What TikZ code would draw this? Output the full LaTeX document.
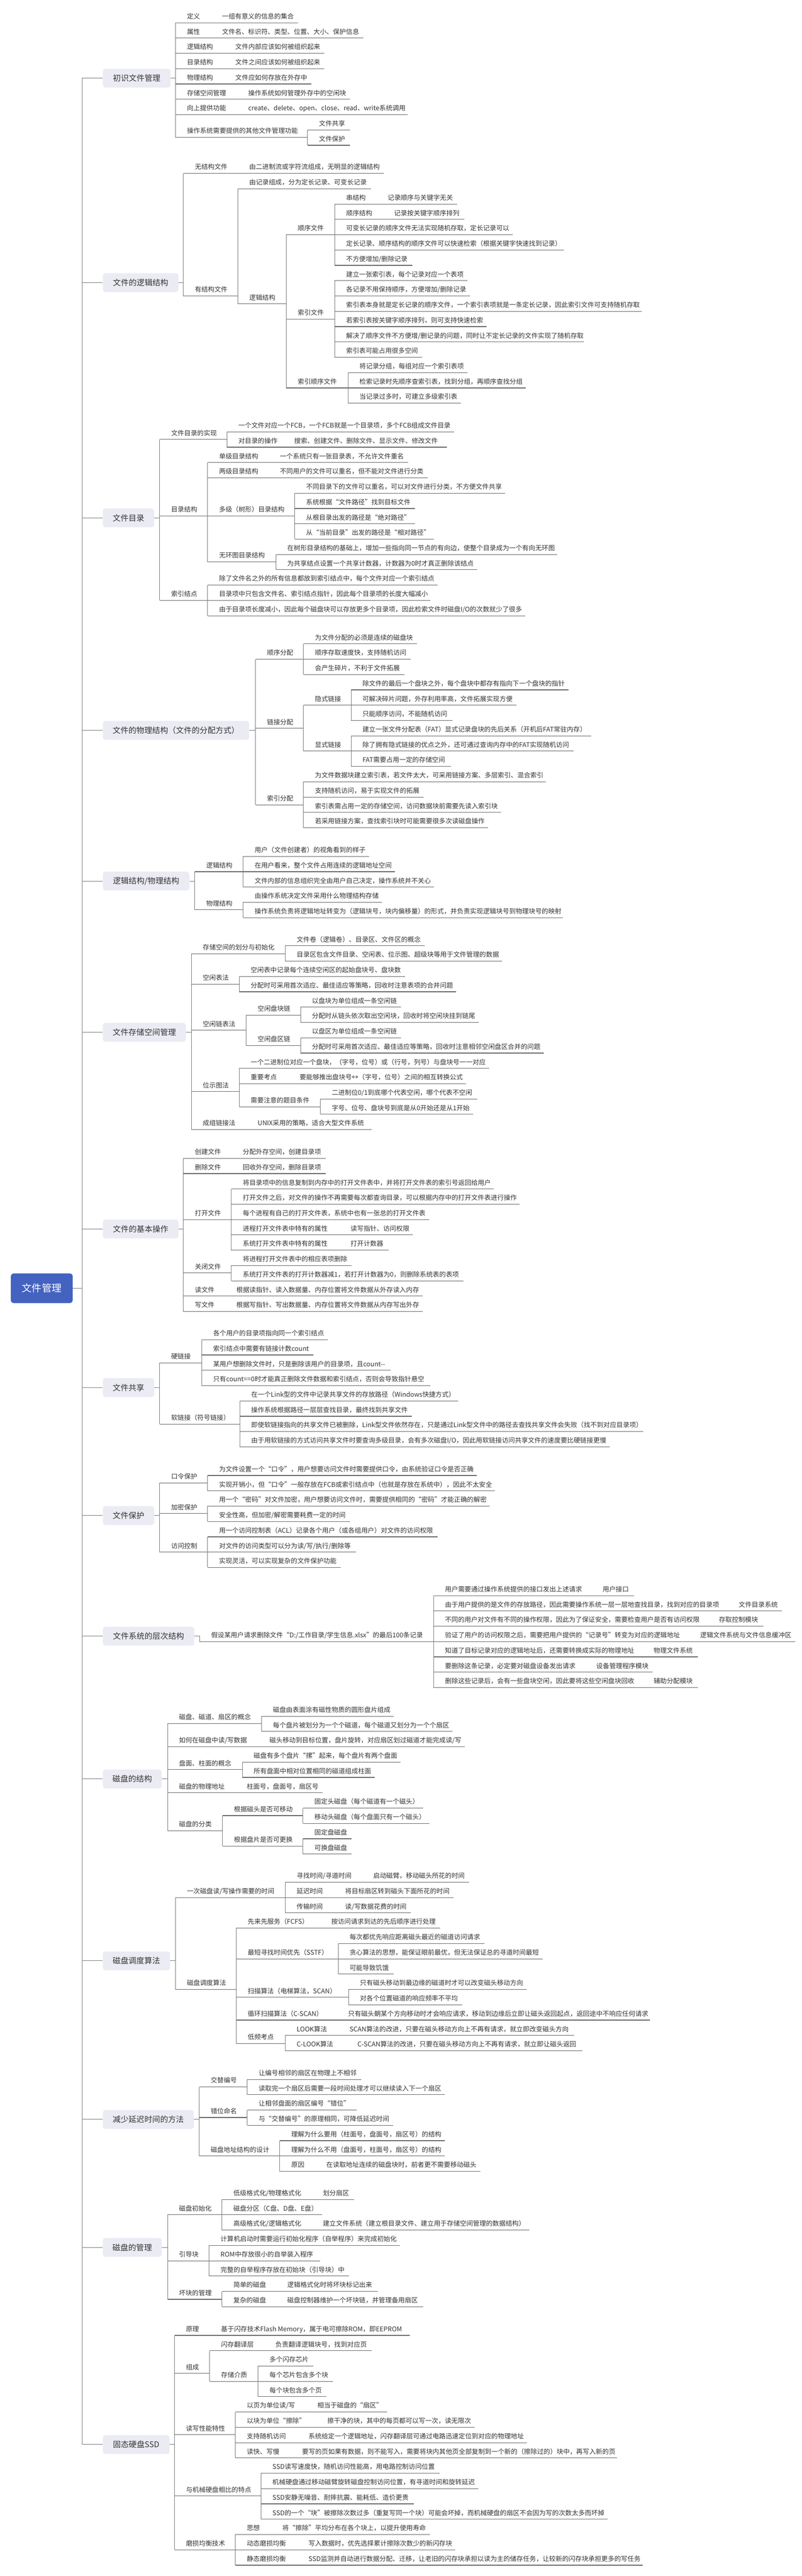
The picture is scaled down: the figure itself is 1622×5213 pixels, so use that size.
\documentclass[tikz,border=0pt]{standalone}
\usepackage{fontspec}
\setmainfont{Noto Sans CJK SC}
\definecolor{rootblue}{HTML}{4462C0}
\definecolor{lonefill}{HTML}{EBEBF4}
\definecolor{txtcol}{HTML}{333333}
\definecolor{linecol}{HTML}{666666}
\definecolor{brcol}{HTML}{7A7A7A}
\tikzset{
  txt/.style={anchor=base west, inner sep=0pt, font=\fontsize{13.2}{15}\selectfont, text=txtcol},
  ul/.style={draw=linecol, line width=1.2pt},
  br/.style={draw=brcol, line width=1pt},
  lone/.style={fill=lonefill, rounded corners=5pt, inner sep=0pt, font=\fontsize{16}{19}\selectfont, text=txtcol},
  rootn/.style={fill=rootblue, rounded corners=6pt, inner sep=0pt, font=\fontsize{20}{24}\selectfont, text=white},
}
% child of a first-level box: box, name, x1, x2, y, text
\newcommand\mmF[6]{%
  \coordinate (#2l) at (#3,#5);
  \coordinate (#2r) at (#4,#5);
  \draw[ul] (#2l) -- (#2r);
  \node[txt] (#2) at ([xshift=23pt,yshift=8pt]#2l) {#6};
  \draw[br] (#1.east) -| (#2l);
}
% child of an underlined node: parent, name, x2, y, text
\newcommand\mmK[5]{%
  \coordinate (#2l) at (#1r |- 0,#4);
  \coordinate (#2r) at (#3,#4);
  \draw[ul] (#2l) -- (#2r);
  \node[txt] (#2) at ([xshift=23pt,yshift=8pt]#2l) {#5};
  \draw[br] (#1r) -- (#2l);
}
% first-level box: name, cx, cy, w, h, text
\newcommand\mmB[6]{%
  \node[lone, minimum width=#4pt, minimum height=#5pt] (#1) at (#2,#3) {#6};
  \draw[br] (root.east) -- (trunk) |- (#1.west);
}
\begin{document}
\begin{tikzpicture}[x=1pt,y=-1pt]
\fill[white] (0,0) rectangle (1622,5213);
\useasboundingbox (0,0) rectangle (1622,5213);

\node[rootn, minimum width=125pt, minimum height=60pt] (root) at (84.5,2607) {文件管理};
\coordinate (trunk) at (166,2607);

% ---------- A
\mmB{A}{276.5}{158}{137}{38}{初识文件管理}
\mmF{A}{a1}{355}{426}{46}{定义}
\mmK{a1}{a1a}{603}{46}{一组有意义的信息的集合}
\mmF{A}{a2}{355}{426}{77}{属性}
\mmK{a2}{a2a}{735}{77}{文件名、标识符、类型、位置、大小、保护信息}
\mmF{A}{a3}{355}{453}{108}{逻辑结构}
\mmK{a3}{a3a}{656}{108}{文件内部应该如何被组织起来}
\mmF{A}{a4}{355}{453}{139}{目录结构}
\mmK{a4}{a4a}{656}{139}{文件之间应该如何被组织起来}
\mmF{A}{a5}{355}{453}{170}{物理结构}
\mmK{a5}{a5a}{630}{170}{文件应如何存放在外存中}
\mmF{A}{a6}{355}{479}{201}{存储空间管理}
\mmK{a6}{a6a}{708}{201}{操作系统如何管理外存中的空闲块}
\mmF{A}{a7}{355}{479}{232}{向上提供功能}
\mmK{a7}{a7a}{825}{232}{create、delete、open、close、read、write系统调用}
\mmF{A}{a8}{355}{622}{278}{操作系统需要提供的其他文件管理功能}
\mmK{a8}{a8a}{708}{263}{文件共享}
\mmK{a8}{a8b}{708}{294}{文件保护}

% ---------- B
\mmB{B}{284.5}{572}{153}{38}{文件的逻辑结构}
\mmF{B}{b1}{371}{481}{351}{无结构文件}
\mmK{b1}{b1a}{777}{351}{由二进制流或字符流组成，无明显的逻辑结构}
\mmF{B}{b2}{371}{481}{599}{有结构文件}
\mmK{b2}{b2a}{751}{382}{由记录组成，分为定长记录、可变长记录}
\mmK{b2}{b2b}{579}{615}{逻辑结构}
\mmK{b2b}{b3}{677}{475}{顺序文件}
\mmK{b3}{b3a}{761}{413}{串结构}
\mmK{b3a}{b3a1}{925}{413}{记录顺序与关键字无关}
\mmK{b3}{b3b}{774}{444}{顺序结构}
\mmK{b3b}{b3b1}{939}{444}{记录按关键字顺序排列}
\mmK{b3}{b3c}{1037}{475}{可变长记录的顺序文件无法实现随机存取，定长记录可以}
\mmK{b3}{b3d}{1141}{506}{定长记录、顺序结构的顺序文件可以快速检索（根据关键字快速找到记录）}
\mmK{b3}{b3e}{834}{537}{不方便增加/删除记录}
\mmK{b2b}{b4}{677}{646}{索引文件}
\mmK{b4}{b4a}{946}{568}{建立一张索引表，每个记录对应一个表项}
\mmK{b4}{b4b}{951}{599}{各记录不用保持顺序，方便增加/删除记录}
\mmK{b4}{b4c}{1298}{630}{索引表本身就是定长记录的顺序文件，一个索引表项就是一条定长记录，因此索引文件可支持随机存取}
\mmK{b4}{b4d}{984}{661}{若索引表按关键字顺序排列，则可支持快速检索}
\mmK{b4}{b4e}{1181}{692}{解决了顺序文件不方便增/删记录的问题，同时让不定长记录的文件实现了随机存取}
\mmK{b4}{b4f}{854}{723}{索引表可能占用很多空间}
\mmK{b2b}{b5}{704}{785}{索引顺序文件}
\mmK{b5}{b5a}{946}{754}{将记录分组，每组对应一个索引表项}
\mmK{b5}{b5b}{1063}{785}{检索记录时先顺序查索引表，找到分组，再顺序查找分组}
\mmK{b5}{b5c}{932}{816}{当记录过多时，可建立多级索引表}

% ---------- C
\mmB{C}{260}{1048}{104}{38}{文件目录}
\mmF{C}{c1}{323}{459}{889}{文件目录的实现}
\mmK{c1}{c1a}{919}{874}{一个文件对应一个FCB，一个FCB就是一个目录项，多个FCB组成文件目录}
\mmK{c1}{c1b}{572}{905}{对目录的操作}
\mmK{c1b}{c1b1}{904}{905}{搜索、创建文件、删除文件、显示文件、修改文件}
\mmF{C}{c2}{323}{420}{1044}{目录结构}
\mmK{c2}{c2a}{543}{936}{单级目录结构}
\mmK{c2a}{c2a1}{826}{936}{一个系统只有一张目录表，不允许文件重名}
\mmK{c2}{c2b}{543}{967}{两级目录结构}
\mmK{c2b}{c2b1}{865}{967}{不同用户的文件可以重名，但不能对文件进行分类}
\mmK{c2}{c2c}{596}{1044}{多级（树形）目录结构}
\mmK{c2c}{c2c1}{1022}{998}{不同目录下的文件可以重名，可以对文件进行分类，不方便文件共享}
\mmK{c2c}{c2c2}{839}{1029}{系统根据“文件路径”找到目标文件}
\mmK{c2c}{c2c3}{839}{1060}{从根目录出发的路径是“绝对路径”}
\mmK{c2c}{c2c4}{878}{1091}{从“当前目录”出发的路径是“相对路径”}
\mmK{c2}{c2d}{558}{1137}{无环图目录结构}
\mmK{c2d}{c2d1}{1127}{1122}{在树形目录结构的基础上，增加一些指向同一节点的有向边，使整个目录成为一个有向无环图}
\mmK{c2d}{c2d2}{965}{1153}{为共享结点设置一个共享计数器，计数器为0时才真正删除该结点}
\mmF{C}{c3}{323}{420}{1215}{索引结点}
\mmK{c3}{c3a}{885}{1184}{除了文件名之外的所有信息都放到索引结点中，每个文件对应一个索引结点}
\mmK{c3}{c3b}{871}{1215}{目录项中只包含文件名、索引结点指针，因此每个目录项的长度大幅减小}
\mmK{c3}{c3c}{1062}{1246}{由于目录项长度减小，因此每个磁盘块可以存放更多个目录项，因此检索文件时磁盘I/O的次数就少了很多}

% ---------- D
\mmB{D}{356}{1478}{296}{38}{文件的物理结构（文件的分配方式）}
\mmF{D}{d1}{517}{614}{1334}{顺序分配}
\mmK{d1}{d1a}{843}{1303}{为文件分配的必须是连续的磁盘块}
\mmK{d1}{d1b}{831}{1334}{顺序存取速度快，支持随机访问}
\mmK{d1}{d1c}{818}{1365}{会产生碎片，不利于文件拓展}
\mmF{D}{d2}{517}{614}{1474}{链接分配}
\mmK{d2}{d2a}{710}{1427}{隐式链接}
\mmK{d2a}{d2a1}{1150}{1396}{除文件的最后一个盘块之外，每个盘块中都存有指向下一个盘块的指针}
\mmK{d2a}{d2a2}{1045}{1427}{可解决碎片问题，外存利用率高，文件拓展实现方便}
\mmK{d2a}{d2a3}{915}{1458}{只能顺序访问，不能随机访问}
\mmK{d2}{d2b}{710}{1520}{显式链接}
\mmK{d2b}{d2b1}{1196}{1489}{建立一张文件分配表（FAT）显式记录盘块的先后关系（开机后FAT常驻内存）}
\mmK{d2b}{d2b2}{1160}{1520}{除了拥有隐式链接的优点之外，还可通过查询内存中的FAT实现随机访问}
\mmK{d2b}{d2b3}{912}{1551}{FAT需要占用一定的存储空间}
\mmF{D}{d3}{517}{614}{1629}{索引分配}
\mmK{d3}{d3a}{1104}{1582}{为文件数据块建立索引表，若文件太大，可采用链接方案、多层索引、混合索引}
\mmK{d3}{d3b}{857}{1613}{支持随机访问，易于实现文件的拓展}
\mmK{d3}{d3c}{1013}{1644}{索引表需占用一定的存储空间，访问数据块前需要先读入索引块}
\mmK{d3}{d3d}{987}{1675}{若采用链接方案，查找索引块时可能需要很多次读磁盘操作}

% ---------- E
\mmB{E}{295.5}{1783}{175}{38}{逻辑结构/物理结构}
\mmF{E}{e1}{394}{492}{1764}{逻辑结构}
\mmK{e1}{e1a}{747}{1733}{用户（文件创建者）的视角看到的样子}
\mmK{e1}{e1b}{799}{1764}{在用户看来，整个文件占用连续的逻辑地址空间}
\mmK{e1}{e1c}{878}{1795}{文件内部的信息组织完全由用户自己决定，操作系统并不关心}
\mmF{E}{e2}{394}{492}{1841}{物理结构}
\mmK{e2}{e2a}{773}{1826}{由操作系统决定文件采用什么物理结构存储}
\mmK{e2}{e2b}{1139}{1857}{操作系统负责将逻辑地址转变为（逻辑块号，块内偏移量）的形式，并负责实现逻辑块号到物理块号的映射}

% ---------- F
\mmB{F}{292}{2089}{168}{38}{文件存储空间管理}
\mmF{F}{f1}{387}{577}{1930}{存储空间的划分与初始化}
\mmK{f1}{f1a}{859}{1914}{文件卷（逻辑卷）、目录区、文件区的概念}
\mmK{f1}{f1b}{1015}{1945}{目录区包含文件目录、空闲表、位示图、超级块等用于文件管理的数据}
\mmF{F}{f2}{387}{484}{1992}{空闲表法}
\mmK{f2}{f2a}{819}{1976}{空闲表中记录每个连续空闲区的起始盘块号、盘块数}
\mmK{f2}{f2b}{923}{2007}{分配时可采用首次适应、最佳适应等策略，回收时注意表项的合并问题}
\mmF{F}{f3}{387}{498}{2085}{空闲链表法}
\mmK{f3}{f3a}{608}{2054}{空闲盘块链}
\mmK{f3a}{f3a1}{811}{2038}{以盘块为单位组成一条空闲链}
\mmK{f3a}{f3a2}{969}{2069}{分配时从链头依次取出空闲块，回收时将空闲块挂到链尾}
\mmK{f3}{f3b}{608}{2116}{空闲盘区链}
\mmK{f3b}{f3b1}{811}{2100}{以盘区为单位组成一条空闲链}
\mmK{f3b}{f3b2}{1100}{2131}{分配时可采用首次适应、最佳适应等策略，回收时注意相邻空闲盘区合并的问题}
\mmF{F}{f4}{387}{484}{2209}{位示图法}
\mmK{f4}{f4a}{989}{2162}{一个二进制位对应一个盘块，（字号，位号）或（行号，列号）与盘块号一一对应}
\mmK{f4}{f4b}{583}{2193}{重要考点}
\mmK{f4b}{f4b1}{943}{2193}{要能够推出盘块号↔（字号，位号）之间的相互转换公式}
\mmK{f4}{f4c}{648}{2240}{需要注意的题目条件}
\mmK{f4c}{f4c1}{965}{2224}{二进制位0/1到底哪个代表空闲，哪个代表不空闲}
\mmK{f4c}{f4c2}{957}{2255}{字号、位号、盘块号到底是从0开始还是从1开始}
\mmF{F}{f5}{387}{498}{2286}{成组链接法}
\mmK{f5}{f5a}{752}{2286}{UNIX采用的策略，适合大型文件系统}

% ---------- G
\mmB{G}{284.5}{2487}{153}{38}{文件的基本操作}
\mmF{G}{g1}{371}{468}{2344}{创建文件}
\mmK{g1}{g1a}{659}{2344}{分配外存空间，创建目录项}
\mmF{G}{g2}{371}{468}{2375}{删除文件}
\mmK{g2}{g2a}{659}{2375}{回收外存空间，删除目录项}
\mmF{G}{g3}{371}{468}{2468}{打开文件}
\mmK{g3}{g3a}{999}{2406}{将目录项中的信息复制到内存中的打开文件表中，并将打开文件表的索引号返回给用户}
\mmK{g3}{g3b}{1051}{2437}{打开文件之后，对文件的操作不再需要每次都查询目录，可以根据内存中的打开文件表进行操作}
\mmK{g3}{g3c}{868}{2468}{每个进程有自己的打开文件表，系统中也有一张总的打开文件表}
\mmK{g3}{g3d}{686}{2499}{进程打开文件表中特有的属性}
\mmK{g3d}{g3d1}{835}{2499}{读写指针、访问权限}
\mmK{g3}{g3e}{686}{2530}{系统打开文件表中特有的属性}
\mmK{g3e}{g3e1}{786}{2530}{打开计数器}
\mmF{G}{g4}{371}{468}{2576}{关闭文件}
\mmK{g4}{g4a}{711}{2561}{将进程打开文件表中的相应表项删除}
\mmK{g4}{g4b}{937}{2592}{系统打开文件表的打开计数器减1，若打开计数器为0，则删除系统表的表项}
\mmF{G}{g5}{371}{455}{2623}{读文件}
\mmK{g5}{g5a}{855}{2623}{根据读指针、读入数据量、内存位置将文件数据从外存读入内存}
\mmF{G}{g6}{371}{455}{2654}{写文件}
\mmK{g6}{g6a}{855}{2654}{根据写指针、写出数据量、内存位置将文件数据从内存写出外存}

% ---------- H
\mmB{H}{260}{2808}{104}{38}{文件共享}
\mmF{H}{h1}{323}{408}{2758}{硬链接}
\mmK{h1}{h1a}{663}{2711}{各个用户的目录项指向同一个索引结点}
\mmK{h1}{h1b}{634}{2742}{索引结点中需要有链接计数count}
\mmK{h1}{h1c}{790}{2773}{某用户想删除文件时，只是删除该用户的目录项，且count-{}-}
\mmK{h1}{h1d}{871}{2804}{只有count==0时才能真正删除文件数据和索引结点，否则会导致指针悬空}
\mmF{H}{h2}{323}{485}{2882}{软链接（符号链接）}
\mmK{h2}{h2a}{927}{2835}{在一个Link型的文件中记录共享文件的存放路径（Windows快捷方式）}
\mmK{h2}{h2b}{833}{2866}{操作系统根据路径一层层查找目录，最终找到共享文件}
\mmK{h2}{h2c}{1301}{2897}{即使软链接指向的共享文件已被删除，Link型文件依然存在，只是通过Link型文件中的路径去查找共享文件会失败（找不到对应目录项）}
\mmK{h2}{h2d}{1233}{2928}{由于用软链接的方式访问共享文件时要查询多级目录，会有多次磁盘I/O，因此用软链接访问共享文件的速度要比硬链接更慢}

% ---------- I
\mmB{I}{260}{3067}{104}{38}{文件保护}
\mmF{I}{i1}{323}{420}{3001}{口令保护}
\mmK{i1}{i1a}{964}{2986}{为文件设置一个“口令”，用户想要访问文件时需要提供口令，由系统验证口令是否正确}
\mmK{i1}{i1b}{1001}{3017}{实现开销小，但“口令”一般存放在FCB或索引结点中（也就是存放在系统中），因此不太安全}
\mmF{I}{i2}{323}{420}{3063}{加密保护}
\mmK{i2}{i2a}{990}{3048}{用一个“密码”对文件加密，用户想要访问文件时，需要提供相同的“密码”才能正确的解密}
\mmK{i2}{i2b}{708}{3079}{安全性高，但加密/解密需要耗费一定的时间}
\mmF{I}{i3}{323}{420}{3141}{访问控制}
\mmK{i3}{i3a}{885}{3110}{用一个访问控制表（ACL）记录各个用户（或各组用户）对文件的访问权限}
\mmK{i3}{i3b}{720}{3141}{对文件的访问类型可以分为读/写/执行/删除等}
\mmK{i3}{i3c}{689}{3172}{实现灵活，可以实现复杂的文件保护功能}

% ---------- J
\mmB{J}{300.5}{3311}{185}{38}{文件系统的层次结构}
\mmF{J}{j0}{404}{877}{3322}{假设某用户请求删除文件“D:/工作目录/学生信息.xlsx”的最后100条记录}
\mmK{j0}{j1}{1196}{3229}{用户需要通过操作系统提供的接口发出上述请求}
\mmK{j1}{j1a}{1282}{3229}{用户接口}
\mmK{j0}{j2}{1471}{3260}{由于用户提供的是文件的存放路径，因此需要操作系统一层一层地查找目录，找到对应的目录项}
\mmK{j2}{j2a}{1582}{3260}{文件目录系统}
\mmK{j0}{j3}{1431}{3291}{不同的用户对文件有不同的操作权限，因此为了保证安全，需要检查用户是否有访问权限}
\mmK{j3}{j3a}{1544}{3291}{存取控制模块}
\mmK{j0}{j4}{1393}{3322}{验证了用户的访问权限之后，需要把用户提供的“记录号”转变为对应的逻辑地址}
\mmK{j4}{j4a}{1609}{3322}{逻辑文件系统与文件信息缓冲区}
\mmK{j0}{j5}{1299}{3353}{知道了目标记录对应的逻辑地址后，还需要转换成实际的物理地址}
\mmK{j5}{j5a}{1412}{3353}{物理文件系统}
\mmK{j0}{j6}{1183}{3384}{要删除这条记录，必定要对磁盘设备发出请求}
\mmK{j6}{j6a}{1320}{3384}{设备管理程序模块}
\mmK{j0}{j7}{1299}{3415}{删除这些记录后，会有一些盘块空闲，因此要将这些空闲盘块回收}
\mmK{j7}{j7a}{1412}{3415}{辅助分配模块}

% ---------- K
\mmB{K}{267.5}{3600}{119}{38}{磁盘的结构}
\mmF{K}{k1}{339}{529}{3488}{磁盘、磁道、扇区的概念}
\mmK{k1}{k1a}{797}{3473}{磁盘由表面涂有磁性物质的圆形盘片组成}
\mmK{k1}{k1b}{915}{3504}{每个盘片被划分为一个个磁道，每个磁道又划分为一个个扇区}
\mmF{K}{k2}{339}{522}{3535}{如何在磁盘中读/写数据}
\mmK{k2}{k2a}{940}{3535}{磁头移动到目标位置，盘片旋转，对应扇区划过磁道才能完成读/写}
\mmF{K}{k3}{339}{490}{3581}{盘面、柱面的概念}
\mmK{k3}{k3a}{810}{3566}{磁盘有多个盘片“摞”起来，每个盘片有两个盘面}
\mmK{k3}{k3b}{758}{3597}{所有盘面中相对位置相同的磁道组成柱面}
\mmF{K}{k4}{339}{476}{3628}{磁盘的物理地址}
\mmK{k4}{k4a}{653}{3628}{柱面号，盘面号，扇区号}
\mmF{K}{k5}{339}{450}{3705}{磁盘的分类}
\mmK{k5}{k5a}{613}{3674}{根据磁头是否可移动}
\mmK{k5a}{k5a1}{856}{3659}{固定头磁盘（每个磁道有一个磁头）}
\mmK{k5a}{k5a2}{868}{3690}{移动头磁盘（每个盘面只有一个磁头）}
\mmK{k5}{k5b}{613}{3736}{根据盘片是否可更换}
\mmK{k5b}{k5b1}{711}{3721}{固定盘磁盘}
\mmK{k5b}{k5b2}{711}{3752}{可换盘磁盘}

% ---------- L
\mmB{L}{276}{3968}{136}{38}{磁盘调度算法}
\mmF{L}{l1}{355}{577}{3840}{一次磁盘读/写操作需要的时间}
\mmK{l1}{l1a}{732}{3809}{寻找时间/寻道时间}
\mmK{l1a}{l1a1}{949}{3809}{启动磁臂，移动磁头所花的时间}
\mmK{l1}{l1b}{675}{3840}{延迟时间}
\mmK{l1b}{l1b1}{917}{3840}{将目标扇区转到磁头下面所花的时间}
\mmK{l1}{l1c}{675}{3871}{传输时间}
\mmK{l1c}{l1c1}{831}{3871}{读/写数据花费的时间}
\mmF{L}{l2}{355}{478}{4026}{磁盘调度算法}
\mmK{l2}{l2a}{647}{3902}{先来先服务（FCFS）}
\mmK{l2a}{l2a1}{890}{3902}{按访问请求到达的先后顺序进行处理}
\mmK{l2}{l2b}{684}{3964}{最短寻找时间优先（SSTF）}
\mmK{l2b}{l2b1}{980}{3933}{每次都优先响应距离磁头最近的磁道访问请求}
\mmK{l2b}{l2b2}{1098}{3964}{贪心算法的思想，能保证眼前最优，但无法保证总的寻道时间最短}
\mmK{l2b}{l2b3}{797}{3995}{可能导致饥饿}
\mmK{l2}{l2c}{705}{4042}{扫描算法（电梯算法，SCAN）}
\mmK{l2c}{l2c1}{1066}{4026}{只有磁头移动到最边缘的磁道时才可以改变磁头移动方向}
\mmK{l2c}{l2c2}{935}{4057}{对各个位置磁道的响应频率不平均}
\mmK{l2}{l2d}{681}{4088}{循环扫描算法（C-SCAN）}
\mmK{l2d}{l2d1}{1315}{4088}{只有磁头朝某个方向移动时才会响应请求，移动到边缘后立即让磁头返回起点，返回途中不响应任何请求}
\mmK{l2}{l2e}{577}{4135}{低频考点}
\mmK{l2e}{l2e1}{684}{4119}{LOOK算法}
\mmK{l2e1}{l2e1a}{1161}{4119}{SCAN算法的改进，只要在磁头移动方向上不再有请求，就立即改变磁头方向}
\mmK{l2e}{l2e2}{700}{4150}{C-LOOK算法}
\mmK{l2e2}{l2e2a}{1178}{4150}{C-SCAN算法的改进，只要在磁头移动方向上不再有请求，就立即让磁头返回}

% ---------- M
\mmB{M}{300}{4289}{184}{38}{减少延迟时间的方法}
\mmF{M}{m1}{403}{500}{4223}{交替编号}
\mmK{m1}{m1a}{731}{4208}{让编号相邻的扇区在物理上不相邻}
\mmK{m1}{m1b}{900}{4239}{读取完一个扇区后需要一段时间处理才可以继续读入下一个扇区}
\mmF{M}{m2}{403}{500}{4285}{错位命名}
\mmK{m2}{m2a}{721}{4270}{让相邻盘面的扇区编号“错位”}
\mmK{m2}{m2b}{796}{4301}{与“交替编号”的原理相同，可降低延迟时间}
\mmF{M}{m3}{403}{566}{4363}{磁盘地址结构的设计}
\mmK{m3}{m3a}{900}{4332}{理解为什么要用（柱面号，盘面号，扇区号）的结构}
\mmK{m3}{m3b}{900}{4363}{理解为什么不用（盘面号，柱面号，扇区号）的结构}
\mmK{m3}{m3c}{637}{4394}{原因}
\mmK{m3c}{m3c1}{972}{4394}{在读取地址连续的磁盘块时，前者更不需要移动磁头}

% ---------- N
\mmB{N}{267.5}{4548}{119}{38}{磁盘的管理}
\mmF{N}{n1}{339}{449}{4482}{磁盘初始化}
\mmK{n1}{n1a}{630}{4451}{低级格式化/物理格式化}
\mmK{n1a}{n1a1}{716}{4451}{划分扇区}
\mmK{n1}{n1b}{652}{4482}{磁盘分区（C盘、D盘、E盘）}
\mmK{n1}{n1c}{630}{4513}{高级格式化/逻辑格式化}
\mmK{n1c}{n1c1}{1071}{4513}{建立文件系统（建立根目录文件、建立用于存储空间管理的数据结构）}
\mmF{N}{n2}{339}{423}{4575}{引导块}
\mmK{n2}{n2a}{809}{4544}{计算机启动时需要运行初始化程序（自举程序）来完成初始化}
\mmK{n2}{n2b}{647}{4575}{ROM中存放很小的自举装入程序}
\mmK{n2}{n2c}{706}{4606}{完整的自举程序存放在初始块（引导块）中}
\mmF{N}{n3}{339}{449}{4653}{坏块的管理}
\mmK{n3}{n3a}{558}{4637}{简单的磁盘}
\mmK{n3a}{n3a1}{764}{4637}{逻辑格式化时将坏块标记出来}
\mmK{n3}{n3b}{558}{4668}{复杂的磁盘}
\mmK{n3b}{n3b1}{856}{4668}{磁盘控制器维护一个坏块链，并管理备用扇区}

% ---------- O
\mmB{O}{275.5}{4947}{135}{38}{固态硬盘SSD}
\mmF{O}{o1}{353}{424}{4726}{原理}
\mmK{o1}{o1a}{829}{4726}{基于闪存技术Flash Memory，属于电可擦除ROM，即EEPROM}
\mmF{O}{o2}{353}{424}{4803}{组成}
\mmK{o2}{o2a}{534}{4757}{闪存翻译层}
\mmK{o2a}{o2a1}{752}{4757}{负责翻译逻辑块号，找到对应页}
\mmK{o2}{o2b}{522}{4819}{存储介质}
\mmK{o2b}{o2b1}{634}{4788}{多个闪存芯片}
\mmK{o2b}{o2b2}{674}{4819}{每个芯片包含多个块}
\mmK{o2b}{o2b3}{660}{4850}{每个块包含多个页}
\mmF{O}{o3}{353}{476}{4927}{读写性能特性}
\mmK{o3}{o3a}{619}{4881}{以页为单位读/写}
\mmK{o3a}{o3a1}{783}{4881}{相当于磁盘的“扇区”}
\mmK{o3}{o3b}{639}{4912}{以块为单位“擦除”}
\mmK{o3b}{o3b1}{960}{4912}{擦干净的块，其中的每页都可以写一次，读无限次}
\mmK{o3}{o3c}{601}{4943}{支持随机访问}
\mmK{o3c}{o3c1}{1066}{4943}{系统给定一个逻辑地址，闪存翻译层可通过电路迅速定位到对应的物理地址}
\mmK{o3}{o3d}{588}{4974}{读快、写慢}
\mmK{o3d}{o3d1}{1248}{4974}{要写的页如果有数据，则不能写入，需要将块内其他页全部复制到一个新的（擦除过的）块中，再写入新的页}
\mmF{O}{o4}{353}{528}{5051}{与机械硬盘相比的特点}
\mmK{o4}{o4a}{889}{5005}{SSD读写速度快，随机访问性能高，用电路控制访问位置}
\mmK{o4}{o4b}{967}{5036}{机械硬盘通过移动磁臂旋转磁盘控制访问位置，有寻道时间和旋转延迟}
\mmK{o4}{o4c}{837}{5067}{SSD安静无噪音、耐摔抗震、能耗低、造价更贵}
\mmK{o4}{o4d}{1229}{5098}{SSD的一个“块”被擦除次数过多（重复写同一个块）可能会坏掉，而机械硬盘的扇区不会因为写的次数太多而坏掉}
\mmF{O}{o5}{353}{476}{5160}{磨损均衡技术}
\mmK{o5}{o5a}{548}{5129}{思想}
\mmK{o5a}{o5a1}{869}{5129}{将“擦除”平均分布在各个块上，以提升使用寿命}
\mmK{o5}{o5b}{601}{5160}{动态磨损均衡}
\mmK{o5b}{o5b1}{921}{5160}{写入数据时，优先选择累计擦除次数少的新闪存块}
\mmK{o5}{o5c}{601}{5191}{静态磨损均衡}
\mmK{o5c}{o5c1}{1300}{5191}{SSD监测并自动进行数据分配、迁移，让老旧的闪存块承担以读为主的储存任务，让较新的闪存块承担更多的写任务}
\end{tikzpicture}
\end{document}
